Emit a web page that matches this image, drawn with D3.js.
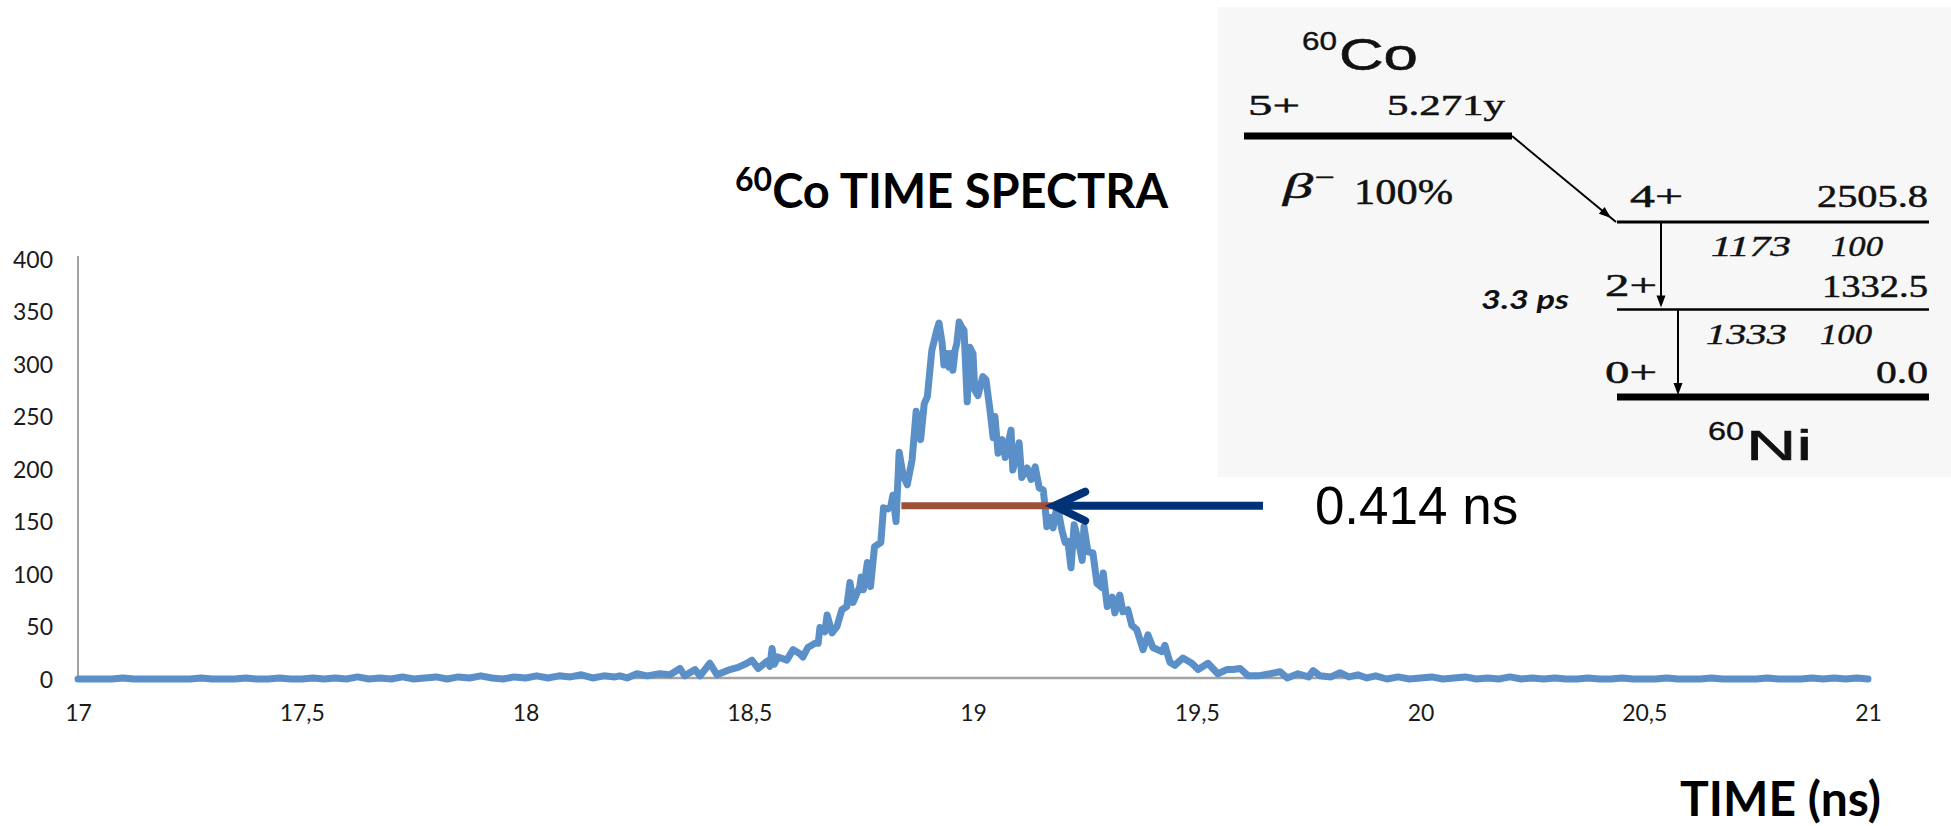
<!DOCTYPE html>
<html>
<head>
<meta charset="utf-8">
<script src="https://cdn.jsdelivr.net/npm/d3@7"></script>
<style>
  html, body { margin: 0; padding: 0; background: #ffffff; }
  svg { display: block; }
</style>
</head>
<body>
<svg id="chart" width="1951" height="826"></svg>
<script>
// ---- 60Co coincidence time spectrum: time (ns) and counts per channel ----
const timeNs = [
  17.000, 17.025, 17.050, 17.075, 17.100, 17.125, 17.150, 17.175, 17.200, 17.225,
  17.250, 17.275, 17.300, 17.325, 17.350, 17.375, 17.400, 17.425, 17.450, 17.475,
  17.500, 17.525, 17.550, 17.575, 17.600, 17.625, 17.650, 17.675, 17.700, 17.725,
  17.750, 17.775, 17.800, 17.825, 17.850, 17.875, 17.900, 17.925, 17.950, 17.975,
  18.000, 18.025, 18.050, 18.075, 18.100, 18.125, 18.150, 18.175, 18.200,
  18.211, 18.227, 18.249, 18.272, 18.300, 18.323, 18.345, 18.356, 18.379, 18.390,
  18.412, 18.428, 18.457, 18.475, 18.495, 18.506, 18.520, 18.540, 18.546, 18.551,
  18.556, 18.564, 18.584, 18.598, 18.613, 18.620, 18.631, 18.647, 18.654, 18.658,
  18.669, 18.674, 18.685, 18.696, 18.707, 18.718, 18.725, 18.732, 18.747, 18.750,
  18.755, 18.764, 18.771, 18.780, 18.794, 18.800, 18.810, 18.816, 18.821, 18.828,
  18.835, 18.844, 18.853, 18.864, 18.873, 18.883, 18.891, 18.898, 18.908, 18.919,
  18.924, 18.931, 18.935, 18.942, 18.946, 18.951, 18.955, 18.960, 18.964, 18.969,
  18.975, 18.980, 18.987, 18.993, 19.000, 19.004, 19.011, 19.022, 19.029, 19.038,
  19.045, 19.049, 19.056, 19.065, 19.072, 19.085, 19.089, 19.103, 19.109, 19.121,
  19.130, 19.139, 19.148, 19.157, 19.161, 19.165, 19.172, 19.179, 19.188, 19.199,
  19.206, 19.212, 19.219, 19.226, 19.235, 19.244, 19.248, 19.257, 19.268, 19.277,
  19.288, 19.291, 19.300, 19.311, 19.317, 19.328, 19.335, 19.346, 19.355, 19.366,
  19.380, 19.391, 19.402, 19.422, 19.429, 19.440, 19.451, 19.469, 19.489, 19.503,
  19.525, 19.547, 19.567, 19.581, 19.597, 19.615, 19.637, 19.664, 19.686, 19.702,
  19.726, 19.750, 19.760, 19.775, 19.800, 19.820, 19.840, 19.860, 19.880, 19.900,
  19.925, 19.950, 19.975, 20.000, 20.025, 20.050, 20.075, 20.100, 20.125, 20.150,
  20.175, 20.200, 20.225, 20.250, 20.275, 20.300, 20.325, 20.350, 20.375, 20.400,
  20.425, 20.450, 20.475, 20.500, 20.525, 20.550, 20.575, 20.600, 20.625, 20.650,
  20.675, 20.700, 20.725, 20.750, 20.775, 20.800, 20.825, 20.850, 20.875, 20.900,
  20.925, 20.950, 20.975, 21.000
];
const counts = [
  0, 0, 0, 0, 1, 0, 0, 0, 0, 0,
  0, 1, 0, 0, 0, 1, 0, 0, 1, 0,
  0, 1, 0, 1, 0, 2, 0, 1, 0, 2,
  0, 1, 2, 0, 2, 1, 3, 1, 0, 2,
  1, 3, 1, 3, 2, 4, 1, 3, 2,
  3, 1, 5, 3, 5, 4, 10, 3, 9, 3,
  15, 4, 9, 11, 15, 18, 10, 17, 12, 29,
  14, 21, 18, 28, 24, 21, 30, 34, 34, 49,
  45, 61, 44, 50, 66, 69, 92, 73, 88, 97,
  85, 111, 88, 126, 130, 163, 162, 164, 175, 150,
  216, 194, 185, 209, 255, 228, 262, 269, 313, 332,
  339, 320, 299, 310, 297, 310, 294, 313, 320, 340,
  335, 332, 264, 316, 310, 275, 270, 288, 285, 256,
  230, 250, 215, 228, 211, 237, 199, 225, 192, 201,
  190, 202, 182, 180, 164, 145, 154, 144, 166, 141,
  130, 131, 106, 147, 132, 113, 145, 121, 120, 91,
  87, 101, 69, 78, 63, 80, 64, 66, 51, 47,
  28, 42, 30, 26, 32, 16, 13, 20, 15, 9,
  15, 5, 9, 9, 10, 3, 3, 5, 7, 1,
  5, 2, 8, 3, 2, 6, 2, 4, 1, 3,
  0, 2, 0, 1, 2, 0, 1, 2, 0, 1,
  0, 2, 0, 1, 0, 1, 0, 0, 1, 0,
  0, 1, 0, 0, 0, 1, 0, 0, 0, 1,
  0, 0, 0, 0, 1, 0, 0, 0, 1, 0,
  1, 0, 1, 0
];

// Axis ticks
const xTicks = [17, 17.5, 18, 18.5, 19, 19.5, 20, 20.5, 21];
const yTicks = [0, 50, 100, 150, 200, 250, 300, 350, 400];

// Half-maximum marker and its annotation
const fwhmLevel = 165;
const fwhmEdges = [18.84, 19.177];
const fwhmArrowTail = 19.648;
const fwhmLabel = "0.414 ns";
const fwhmLabelAt = 19.764;

// Decay scheme of 60Co -> 60Ni
const parentLevel = { spin: "5+", halfLife: "5.271y", branch: "100%" };
const daughterSpins = ["4+", "2+", "0+"];
const daughterEnergies = ["2505.8", "1332.5", "0.0"];
const gammaEnergies = ["1173", "1333"];
const gammaIntensities = ["100", "100"];
const levelLifetime = "3.3 ps";

const svg = d3.select("#chart");
const W = 1951, H = 826;

const x = d3.scaleLinear().domain([17, 21]).range([78, 1868]);
const y = d3.scaleLinear().domain([0, 400]).range([679, 259]);

const commaFmt = d3.formatLocale({ decimal: ",", thousands: ".", grouping: [3], currency: ["", ""] }).format("~g");

const tickFont = "Lato, 'Open Sans', sans-serif";

// ---- axes ----
const axisColor = "#a3a3a3";
svg.append("line")
  .attr("x1", x(17)).attr("x2", x(17))
  .attr("y1", y(400) - 3).attr("y2", y(0))
  .attr("stroke", axisColor).attr("stroke-width", 2);
svg.append("line")
  .attr("x1", x(17)).attr("x2", x(21))
  .attr("y1", y(0) - 1).attr("y2", y(0) - 1)
  .attr("stroke", axisColor).attr("stroke-width", 2.5);

const yAxis = d3.axisLeft(y).tickValues(yTicks).tickSize(0).tickPadding(0).tickFormat(d3.format("d"));
const gy = svg.append("g").attr("transform", "translate(53,0)").call(yAxis);
gy.select(".domain").remove();
gy.selectAll("text")
  .attr("font-family", tickFont).attr("font-size", 23).attr("fill", "#1a1a1a")
  .attr("dy", "0.36em").attr("x", 0);

const xAxis = d3.axisBottom(x).tickValues(xTicks).tickSize(0).tickPadding(0).tickFormat(commaFmt);
const gx = svg.append("g").attr("transform", `translate(0,${y(0)})`).call(xAxis);
gx.select(".domain").remove();
gx.selectAll("text")
  .attr("font-family", tickFont).attr("font-size", 23).attr("fill", "#1a1a1a")
  .attr("dy", 0).attr("y", 42);

// ---- spectrum line ----
const pts = timeNs.map((t, i) => [t, counts[i]]);
const line = d3.line().x(d => x(d[0])).y(d => y(d[1])).curve(d3.curveLinear);
svg.append("path")
  .datum(pts)
  .attr("d", line)
  .attr("fill", "none")
  .attr("stroke", "#5b8fc8")
  .attr("stroke-width", 7)
  .attr("stroke-linejoin", "round")
  .attr("stroke-linecap", "round");

// ---- FWHM bar ----
svg.append("line")
  .attr("x1", x(fwhmEdges[0])).attr("x2", x(fwhmEdges[1]))
  .attr("y1", y(fwhmLevel)).attr("y2", y(fwhmLevel))
  .attr("stroke", "#9e4f3c").attr("stroke-width", 7);

// ---- pointing arrow ----
const navy = "#003278";
const tipX = x(fwhmEdges[1]) + 2, tipY = y(fwhmLevel);
svg.append("line")
  .attr("x1", tipX + 4).attr("x2", x(fwhmArrowTail))
  .attr("y1", tipY).attr("y2", tipY)
  .attr("stroke", navy).attr("stroke-width", 8);
svg.append("path")
  .attr("d", d3.line()([[tipX + 31, tipY - 14], [tipX, tipY], [tipX + 31, tipY + 15]]))
  .attr("fill", "none").attr("stroke", navy).attr("stroke-width", 8)
  .attr("stroke-linecap", "round").attr("stroke-linejoin", "miter");

svg.append("text")
  .attr("x", x(fwhmLabelAt)).attr("y", y(fwhmLevel) + 18)
  .attr("font-family", "'Liberation Sans', Arial, sans-serif")
  .attr("font-size", 53).attr("fill", "#000")
  .text(fwhmLabel);

// ---- titles ----
const boldFont = "Lato, 'Open Sans', sans-serif";
const title = svg.append("text")
  .attr("x", 735).attr("y", 208)
  .attr("font-family", boldFont).attr("font-weight", 700)
  .attr("font-size", 47).attr("fill", "#000");
title.append("tspan").attr("font-size", 32).attr("dy", -17).text("60");
title.append("tspan").attr("dy", 17).text("Co TIME SPECTRA");

svg.append("text")
  .attr("x", 1680).attr("y", 816)
  .attr("font-family", boldFont).attr("font-weight", 700)
  .attr("font-size", 48).attr("fill", "#000")
  .text("TIME (ns)");

// ---- decay scheme inset ----
const inset = svg.append("g");
inset.append("rect")
  .attr("x", 1218).attr("y", 7).attr("width", W - 1218).attr("height", 470)
  .attr("fill", "#f7f7f7");

const serif = "'Liberation Serif', 'Times New Roman', serif";
const sans = "'Liberation Sans', Arial, sans-serif";

function label(g, s, o) {
  const t = g.append("text")
    .attr("x", o.x).attr("y", o.y)
    .attr("font-family", o.family || serif)
    .attr("font-size", o.size)
    .attr("font-style", o.style || "normal")
    .attr("font-weight", o.weight || 400)
    .attr("fill", "#111")
    .text(s);
  if (o.heavy) t.attr("stroke", "#111").attr("stroke-width", o.heavy);
  if (o.w) t.attr("textLength", o.w).attr("lengthAdjust", "spacingAndGlyphs");
  return t;
}

// rows of the daughter levels
const levelY = d3.scalePoint().domain(daughterSpins).range([222, 397]);
const parentY = 136;
const levelX0 = 1617, levelX1 = 1929;

// parent nucleus
label(inset, "60", { x: 1302, y: 50, size: 26, family: sans, w: 35, heavy: 0.4 });
label(inset, "Co", { x: 1339, y: 70, size: 45, family: sans, w: 79, heavy: 0.6 });
label(inset, parentLevel.spin, { x: 1248, y: 115, size: 30, w: 52, heavy: 0.5 });
label(inset, parentLevel.halfLife, { x: 1387, y: 115, size: 30, w: 118, heavy: 0.5 });
inset.append("line")
  .attr("x1", 1244).attr("x2", 1512).attr("y1", parentY).attr("y2", parentY)
  .attr("stroke", "#000").attr("stroke-width", 7);

// beta branch
label(inset, "β", { x: 1283, y: 198, size: 36, style: "italic", w: 30, heavy: 0.5 });
label(inset, "−", { x: 1315, y: 186, size: 26, w: 20, heavy: 0.5 });
label(inset, parentLevel.branch, { x: 1354, y: 204, size: 36, w: 99, heavy: 0.5 });

const arrowHead = (g, x2, y2, ang) => {
  const L = 12, Wd = 4.5;
  const c = Math.cos(ang), s = Math.sin(ang);
  const p = [
    [x2, y2],
    [x2 - L * c + Wd * s, y2 - L * s - Wd * c],
    [x2 - L * c - Wd * s, y2 - L * s + Wd * c]
  ];
  g.append("path").attr("d", d3.line()(p) + "Z").attr("fill", "#000");
};

// beta transition
const bx0 = 1512, by0 = parentY, bx1 = levelX0 - 1, by1 = levelY("4+");
inset.append("line")
  .attr("x1", bx0).attr("y1", by0).attr("x2", bx1).attr("y2", by1)
  .attr("stroke", "#000").attr("stroke-width", 2);
arrowHead(inset, bx1 - 5, by1 - 4, Math.atan2(by1 - by0, bx1 - bx0));

// daughter levels
const levelStroke = { "4+": 3, "2+": 2.5, "0+": 7 };
daughterSpins.forEach((sp, i) => {
  const ly = levelY(sp);
  inset.append("line")
    .attr("x1", levelX0).attr("x2", levelX1).attr("y1", ly).attr("y2", ly)
    .attr("stroke", "#000").attr("stroke-width", levelStroke[sp]);
});
label(inset, "4+", { x: 1630, y: 207, size: 31, w: 53, heavy: 0.5 });
label(inset, daughterEnergies[0], { x: 1817, y: 207, size: 31, w: 111, heavy: 0.5 });
label(inset, "2+", { x: 1605, y: 296, size: 31, w: 52, heavy: 0.5 });
label(inset, daughterEnergies[1], { x: 1822, y: 297, size: 31, w: 106, heavy: 0.5 });
label(inset, "0+", { x: 1605, y: 383, size: 31, w: 52, heavy: 0.5 });
label(inset, daughterEnergies[2], { x: 1876, y: 383, size: 31, w: 52, heavy: 0.5 });

// gamma transitions
const gammaX = [1661, 1678];
[["4+", "2+"], ["2+", "0+"]].forEach(([a, b], i) => {
  const ya = levelY(a), yb = levelY(b) - 2;
  inset.append("line")
    .attr("x1", gammaX[i]).attr("x2", gammaX[i]).attr("y1", ya).attr("y2", yb - 6)
    .attr("stroke", "#000").attr("stroke-width", 2);
  arrowHead(inset, gammaX[i], yb, Math.PI / 2);
});
label(inset, gammaEnergies[0], { x: 1711, y: 256, size: 30, style: "italic", w: 80, heavy: 0.4 });
label(inset, gammaIntensities[0], { x: 1831, y: 256, size: 30, style: "italic", w: 52, heavy: 0.4 });
label(inset, gammaEnergies[1], { x: 1706, y: 344, size: 30, style: "italic", w: 81, heavy: 0.4 });
label(inset, gammaIntensities[1], { x: 1820, y: 344, size: 30, style: "italic", w: 52, heavy: 0.4 });

label(inset, levelLifetime, { x: 1481, y: 309, size: 27, family: boldFont, style: "italic", weight: 700, w: 88 });

// daughter nucleus
label(inset, "60", { x: 1708, y: 440, size: 26, family: sans, w: 36, heavy: 0.4 });
label(inset, "Ni", { x: 1746, y: 460, size: 43, family: sans, w: 66, heavy: 0.6 });
</script>
</body>
</html>
